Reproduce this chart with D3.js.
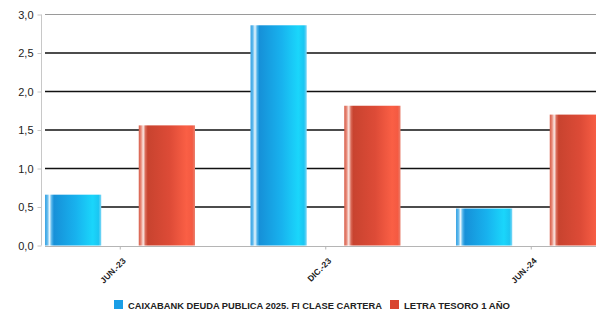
<!DOCTYPE html>
<html><head><meta charset="utf-8">
<script src="https://cdn.jsdelivr.net/npm/d3@7"></script>
<style>body{margin:0;background:#fff;}svg{display:block;font-family:"Liberation Sans",Arial,sans-serif;}</style>
</head><body><svg id="c" width="596" height="311"></svg>
<script>
const categories = ["JUN.-23", "DIC.-23", "JUN.-24"];
const seriesNames = ["CAIXABANK DEUDA PUBLICA 2025. FI CLASE CARTERA", "LETRA TESORO 1 AÑO"];
const caixabank = [0.66, 2.86, 0.48];
const letra = [1.56, 1.815, 1.70];
const yTicks = [0, 0.5, 1.0, 1.5, 2.0, 2.5, 3.0];

const svg = d3.select("#c");
const W = 596, H = 311;
const y = d3.scaleLinear().domain([0, 3]).range([245.5, 14.5]);
const x0 = d3.scaleBand().domain(categories).range([17.5, 634]).paddingInner(0).paddingOuter(0);
const x1 = d3.scaleBand().domain([0, 1]).range([27.5, 177.5]).paddingInner(0.4);

const defs = svg.append("defs");
function grad(id, stops) {
  const g = defs.append("linearGradient").attr("id", id).attr("x1", "0").attr("x2", "1").attr("y1", "0").attr("y2", "0");
  stops.forEach(s => g.append("stop").attr("offset", s[0]).attr("stop-color", s[1]));
}
grad("gb", [[0, "#3aa4e4"], [0.04, "#5cb8ec"], [0.08, "#e8f6fd"], [0.12, "#4fb3ea"], [0.16, "#1690d8"], [0.55, "#18b2ee"], [0.85, "#1ad6fb"], [0.95, "#1bc6f2"], [1, "#7fd6f6"]]);
grad("gr", [[0, "#d65c48"], [0.04, "#e88a7a"], [0.08, "#fbe8e4"], [0.12, "#d96a58"], [0.16, "#c8432f"], [0.55, "#dd4b37"], [0.85, "#fa5f45"], [0.95, "#f45a42"], [1, "#e9816f"]]);

// grid lines
svg.append("g").selectAll("line").data(yTicks.filter(d => d > 0)).join("line")
  .attr("x1", 45).attr("x2", W).attr("y1", d => y(d)).attr("y2", d => y(d))
  .attr("stroke", d => d === 3 ? "#9a9a9a" : "#111").attr("stroke-width", d => d === 3 ? 1 : 1.3);

// y axis
const ya = svg.append("g").attr("transform", "translate(41.5,0)")
  .call(d3.axisLeft(y).tickValues(yTicks).tickSize(4).tickFormat(d => d3.format(".1f")(d).replace(".", ",")));
ya.select(".domain").attr("stroke", "#c8c8c8").attr("d", `M0,${y(3)}V${y(0)}`);
ya.selectAll(".tick line").attr("stroke", "#c8c8c8");
ya.selectAll(".tick text").attr("font-size", 11).attr("fill", "#222").attr("x", -8);

// bars
const series = [caixabank, letra];
const fills = ["url(#gb)", "url(#gr)"];
categories.forEach((c, i) => {
  series.forEach((s, j) => {
    svg.append("rect")
      .attr("x", x0(c) + x1(j)).attr("width", x1.bandwidth())
      .attr("y", y(s[i])).attr("height", y(0) - y(s[i]))
      .attr("fill", fills[j]);
  });
});

// x axis
const xa = svg.append("g").attr("transform", `translate(0,${y(0) + 1})`)
  .call(d3.axisBottom(x0).tickSize(3));
xa.select(".domain").attr("stroke", "#b5b5b5").attr("stroke-width", 1.2).attr("d", `M45,0H${W}`);
xa.selectAll(".tick line").attr("stroke", "#b5b5b5");
xa.selectAll(".tick text").attr("font-size", 8.5).attr("font-weight", "bold").attr("fill", "#222")
  .attr("text-anchor", "end").attr("dy", 0).attr("y", 0)
  .attr("transform", "translate(6,15) rotate(-45)");

// legend
const lg = svg.append("g");
const colors = ["#1a9ee6", "#d9452f"];
const lx = [114, 390], tw = [254, 106];
seriesNames.forEach((n, j) => {
  lg.append("rect").attr("x", lx[j]).attr("y", 300).attr("width", 9).attr("height", 9).attr("fill", colors[j]);
  lg.append("text").attr("x", lx[j] + 14).attr("y", 308.5).attr("font-size", 8.5).attr("font-weight", "bold")
    .attr("fill", "#222").attr("textLength", tw[j]).attr("lengthAdjust", "spacingAndGlyphs").text(n);
});
</script></body></html>
